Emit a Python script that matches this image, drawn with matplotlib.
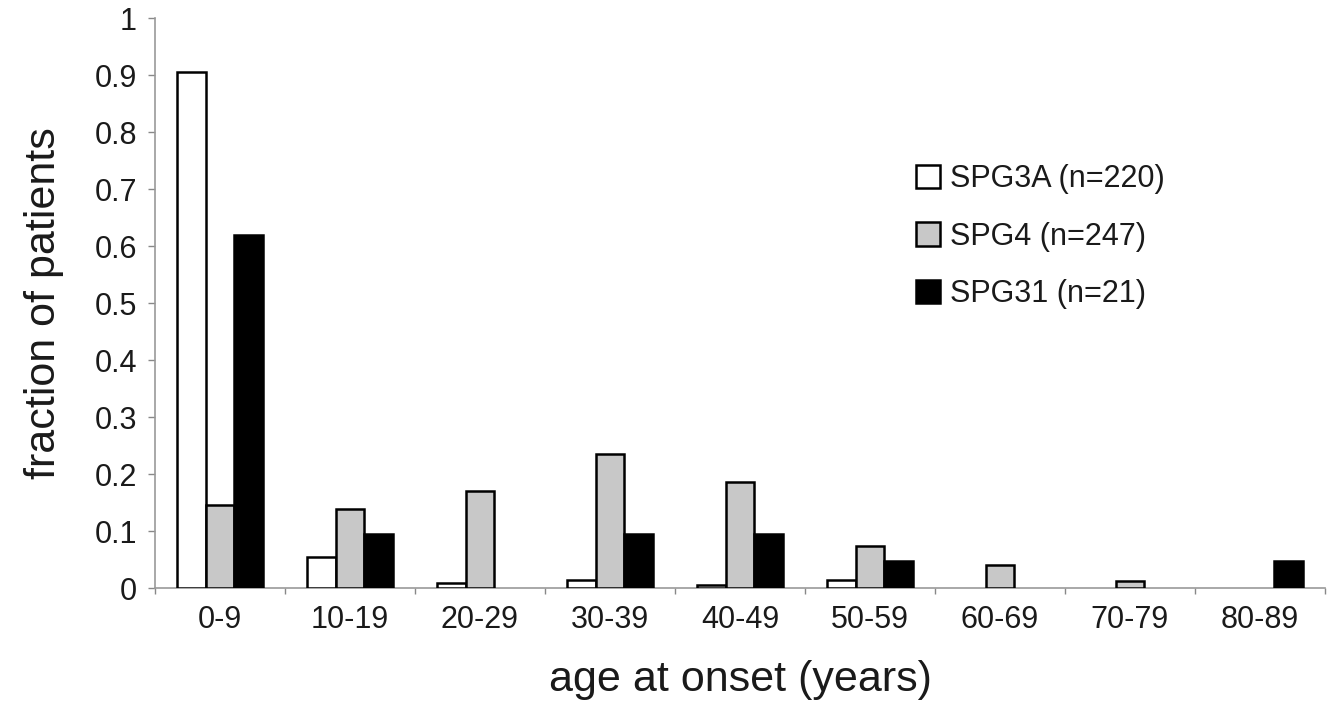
import numpy as np
import matplotlib
matplotlib.use("Agg")
import matplotlib.pyplot as plt
from matplotlib.ticker import FuncFormatter

plt.rcParams["font.family"] = ["Liberation Sans", "DejaVu Sans"]

# age groups and fraction of patients per group
age_groups = ["0-9", "10-19", "20-29", "30-39", "40-49", "50-59", "60-69", "70-79", "80-89"]
spg3a = [0.905, 0.055, 0.009, 0.014, 0.005, 0.014, 0.0, 0.0, 0.0]
spg4 = [0.146, 0.138, 0.170, 0.235, 0.186, 0.073, 0.040, 0.012, 0.0]
spg31 = [0.619, 0.095, 0.0, 0.095, 0.095, 0.048, 0.0, 0.0, 0.048]
labels = ["SPG3A (n=220)", "SPG4 (n=247)", "SPG31 (n=21)"]

fig = plt.figure(figsize=(13.34, 7.06), dpi=100)
ax = fig.add_axes([0.1162, 0.167, 0.877, 0.8075])

x = np.arange(len(age_groups))
w = 0.222
series = [spg3a, spg4, spg31]
colors = ["white", "#c8c8c8", "black"]
for i, (vals, col, lab) in enumerate(zip(series, colors, labels)):
    vals = np.array(vals)
    lw = np.where(vals > 0, 1.8, 0)  # empty groups draw nothing
    ax.bar(x + (i - 1) * w, vals, width=w, color=col, edgecolor="black",
           linewidth=lw, label=lab, zorder=3)

ax.set_xlim(-0.5, len(age_groups) - 0.5)
ax.set_ylim(0, 1)
ax.set_yticks(np.arange(0, 1.01, 0.1))
ax.yaxis.set_major_formatter(FuncFormatter(lambda v, p: "%g" % round(v, 1)))
ax.set_xticks(x)
ax.set_xticklabels(age_groups)
ax.set_xticks(np.arange(-0.5, len(age_groups)), minor=True)
ax.tick_params(axis="x", which="major", length=0, labelsize=22, pad=12, colors="#1a1a1a")
ax.tick_params(axis="x", which="minor", length=4, width=1, color="#888888")
ax.tick_params(axis="y", length=5, width=1, color="#888888", labelsize=22,
               pad=8, labelcolor="#1a1a1a")

for s in ["top", "right"]:
    ax.spines[s].set_visible(False)
for s in ["left", "bottom"]:
    ax.spines[s].set_color("#999999")
    ax.spines[s].set_linewidth(1.2)

ax.set_ylabel("fraction of patients", fontsize=31, color="#1a1a1a", labelpad=22)
ax.set_xlabel("age at onset (years)", fontsize=31, color="#1a1a1a", labelpad=18)

leg = ax.legend(loc="upper left", bbox_to_anchor=(0.64, 0.765), frameon=False,
                fontsize=22, handlelength=0.8, handleheight=0.8,
                handletextpad=0.3, labelspacing=0.9, borderaxespad=0)
for t in leg.get_texts():
    t.set_color("#1a1a1a")

fig.savefig("out.png", dpi=100)
